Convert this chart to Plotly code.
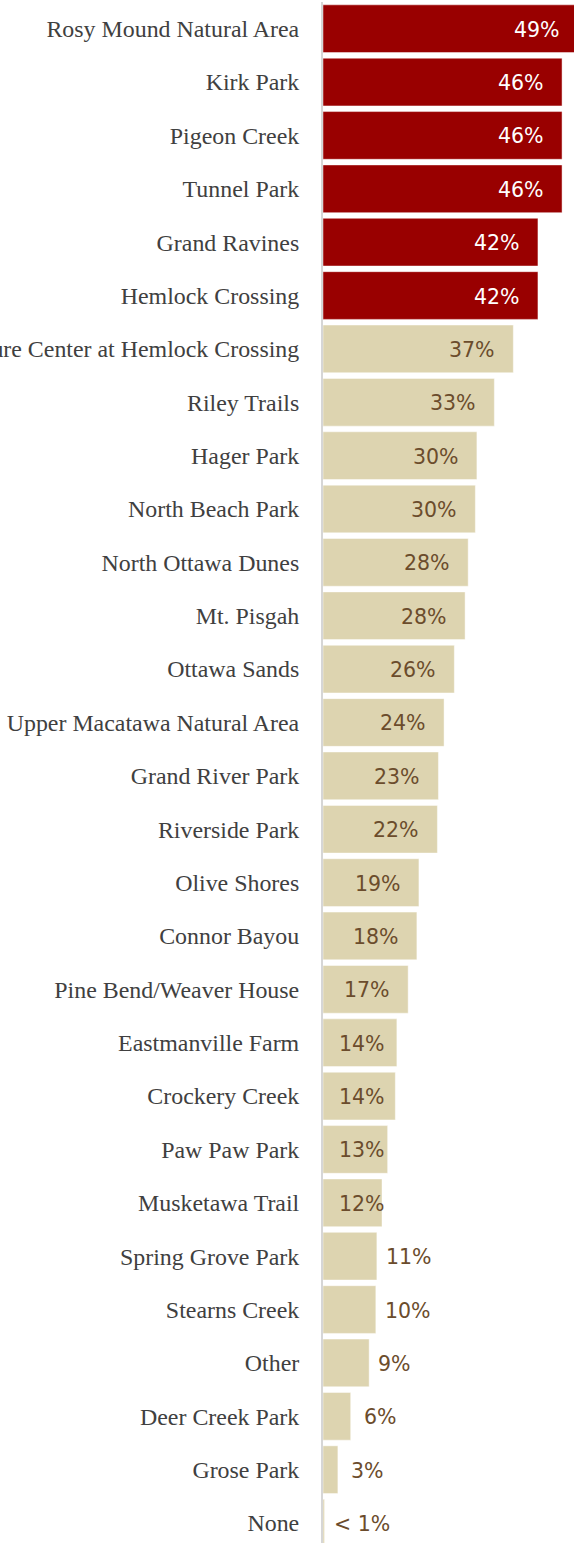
import plotly.graph_objects as go

categories = [
    "Rosy Mound Natural Area", "Kirk Park", "Pigeon Creek", "Tunnel Park",
    "Grand Ravines", "Hemlock Crossing", "Nature Center at Hemlock Crossing",
    "Riley Trails", "Hager Park", "North Beach Park", "North Ottawa Dunes",
    "Mt. Pisgah", "Ottawa Sands", "Upper Macatawa Natural Area",
    "Grand River Park", "Riverside Park", "Olive Shores", "Connor Bayou",
    "Pine Bend/Weaver House", "Eastmanville Farm", "Crockery Creek",
    "Paw Paw Park", "Musketawa Trail", "Spring Grove Park", "Stearns Creek",
    "Other", "Deer Creek Park", "Grose Park", "None",
]
values = [
    49.2, 46.6, 46.6, 46.6, 41.9, 41.9, 37.1, 33.4, 30.0, 29.7, 28.3, 27.7,
    25.6, 23.6, 22.5, 22.3, 18.7, 18.3, 16.6, 14.4, 14.1, 12.6, 11.5, 10.5,
    10.3, 9.0, 5.4, 2.9, 0.3,
]
labels = [
    "49%", "46%", "46%", "46%", "42%", "42%", "37%", "33%", "30%", "30%",
    "28%", "28%", "26%", "24%", "23%", "22%", "19%", "18%", "17%", "14%",
    "14%", "13%", "12%", "11%", "10%", "9%", "6%", "3%", "< 1%",
]
highlighted = 6  # first six bars are highlighted

RED = "#990000"
TAN = "#ddd4b0"
BROWN = "#6b4c2c"

W, H = 574, 1543
ML, MT = 323, 2
PX_PER_PCT = 5.13
plot_w = W - ML
XMAX = plot_w / PX_PER_PCT
PITCH = 53.37
n_units = (H - MT) / PITCH

colors = [RED if i < highlighted else TAN for i in range(len(categories))]

fig = go.Figure(go.Bar(
    x=values, y=categories, orientation="h",
    marker=dict(color=colors, line=dict(color="rgba(255,255,255,0.45)", width=1)),
    hoverinfo="skip",
))

annotations = []
for i, (c, v, t) in enumerate(zip(categories, values, labels)):
    fcol = "white" if i < highlighted else BROWN
    if v >= 15:
        if v > XMAX:
            x, xa, xs = XMAX, "right", -12
        else:
            x, xa, xs = v, "right", -16
    elif v >= 11:
        x, xa, xs = 0, "left", 14
    else:
        x, xa, xs = v, "left", (7 if (v >= 9 or v < 1) else 11)
    annotations.append(dict(
        x=x, y=c, xref="x", yref="y", text=t, showarrow=False,
        xanchor=xa, yanchor="middle", xshift=xs, yshift=-1,
        font=dict(family="Tahoma, DejaVu Sans, sans-serif", size=20.5, color=fcol),
    ))

fig.update_layout(
    width=W, height=H,
    margin=dict(l=ML, r=0, t=MT, b=0, pad=0),
    paper_bgcolor="white", plot_bgcolor="white",
    bargap=0.106,
    showlegend=False,
    annotations=annotations,
    xaxis=dict(visible=False, range=[0, XMAX], fixedrange=True),
    yaxis=dict(
        type="category",
        categoryorder="array", categoryarray=categories,
        range=[-0.5 + n_units, -0.5],
        showline=True, linecolor="#d6d6d6", linewidth=2,
        showgrid=False, zeroline=False, ticks="",
        ticklabelstandoff=17,
        tickfont=dict(family="Palatino Linotype, Book Antiqua, Palatino, Liberation Serif, serif",
                      size=23.9, color="#404040"),
        automargin=False, fixedrange=True,
    ),
)

fig.write_html("out.html")
